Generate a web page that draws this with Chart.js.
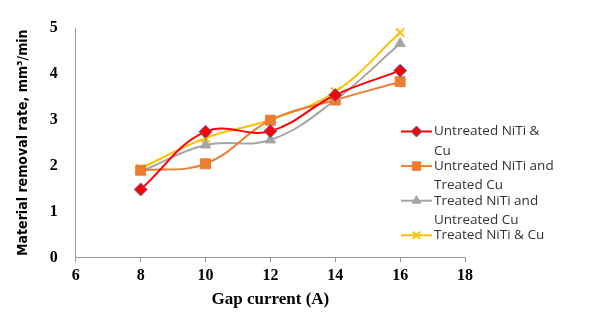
<!DOCTYPE html>
<html>
<head>
<meta charset="utf-8">
<script src="https://cdn.jsdelivr.net/npm/chart.js@4/dist/chart.umd.min.js"></script>
<style>
  html, body { margin: 0; padding: 0; background: #fff; }
  #wrap { width: 589px; height: 332px; }
</style>
</head>
<body>
<div id="wrap"><canvas id="mrrChart" width="589" height="332"></canvas></div>
<script>
// gap current (A)
const gapCurrent = [8, 10, 12, 14, 16];
// material removal rate, mm3/min
const untreatedNiTiCu = [1.48, 2.74, 2.75, 3.54, 4.07];
const untreatedNiTiTreatedCu = [1.90, 2.04, 2.99, 3.43, 3.83];
const treatedNiTiUntreatedCu = [1.87, 2.45, 2.56, 3.43, 4.66];
const treatedNiTiCu = [1.94, 2.60, 3.00, 3.61, 4.90];
const seriesLabels = [
  ['Untreated NiTi &', 'Cu'],
  ['Untreated NiTi and', 'Treated Cu'],
  ['Treated NiTi and', 'Untreated Cu'],
  ['Treated NiTi & Cu']
];
const xTicks = [6, 8, 10, 12, 14, 16, 18];
const yTicks = [0, 1, 2, 3, 4, 5];

const toPoints = (vals) => vals.map((v, i) => ({ x: gapCurrent[i], y: v }));

const styles = [
  { color: '#FF0000', point: 'rectRot', radius: 6.5, border: '#4472C4' },
  { color: '#ED7D31', point: 'rect', radius: 7, border: '#ED7D31' },
  { color: '#A5A5A5', point: 'triangle', radius: 6, border: '#A5A5A5' },
  { color: '#FFC000', point: 'crossRot', radius: 6, border: '#FFC000' }
];
const allSeries = [untreatedNiTiCu, untreatedNiTiTreatedCu, treatedNiTiUntreatedCu, treatedNiTiCu];

const datasets = allSeries.map((vals, i) => ({
  label: seriesLabels[i].join(' '),
  data: toPoints(vals),
  borderColor: styles[i].color,
  backgroundColor: styles[i].color,
  borderWidth: 2,
  tension: 0.4,
  pointStyle: styles[i].point,
  pointRadius: styles[i].radius,
  pointBackgroundColor: styles[i].color,
  pointBorderColor: styles[i].border,
  pointBorderWidth: styles[i].point === 'crossRot' ? 2 : 1
}));

// legend drawn inside the plot, on the right, like the original
const sideLegend = {
  id: 'sideLegend',
  afterDraw(chart) {
    const ctx = chart.ctx;
    const x0 = 401, y0 = 131.5, lineH = 19.5, gap = 34.6;
    ctx.save();
    ctx.font = '13.5px "Open Sans", sans-serif';
    ctx.textBaseline = 'middle';
    ctx.fillStyle = '#333';
    chart.data.datasets.forEach((ds, i) => {
      const y = y0 + i * gap;
      ctx.strokeStyle = ds.borderColor;
      ctx.lineWidth = 2;
      ctx.beginPath();
      ctx.moveTo(x0, y);
      ctx.lineTo(x0 + 31, y);
      ctx.stroke();
      if (Chart.helpers && Chart.helpers.drawPoint) {
        ctx.fillStyle = ds.pointBackgroundColor;
        ctx.strokeStyle = ds.pointBorderColor;
        ctx.lineWidth = ds.pointBorderWidth;
        Chart.helpers.drawPoint(ctx, { pointStyle: ds.pointStyle, radius: ds.pointRadius - 1, rotation: 0, borderWidth: ds.pointBorderWidth }, x0 + 15.5, y);
      }
      ctx.fillStyle = '#333';
      seriesLabels[i].forEach((t, k) => ctx.fillText(t, x0 + 33, y + k * lineH));
    });
    ctx.restore();
  }
};

new Chart(document.getElementById('mrrChart'), {
  type: 'line',
  data: { datasets: datasets },
  plugins: [sideLegend],
  options: {
    responsive: false,
    animation: false,
    layout: { padding: { left: 11, right: 124, top: 28, bottom: 18 } },
    plugins: {
      legend: { display: false },
      tooltip: { enabled: false }
    },
    scales: {
      x: {
        type: 'linear',
        min: xTicks[0],
        max: xTicks[xTicks.length - 1],
        afterBuildTicks: (axis) => { axis.ticks = xTicks.map(v => ({ value: v })); },
        grid: { display: true, drawOnChartArea: false, color: '#999', tickLength: 5 },
        border: { color: '#999', width: 1 },
        ticks: { color: '#000', font: { family: '"Liberation Serif", serif', size: 16, weight: 'bold' }, padding: 4 },
        title: { display: true, text: 'Gap current (A)', color: '#000', font: { family: '"Liberation Serif", serif', size: 17, weight: 'bold' }, padding: { top: 0 } }
      },
      y: {
        min: yTicks[0],
        max: yTicks[yTicks.length - 1],
        afterBuildTicks: (axis) => { axis.ticks = yTicks.map(v => ({ value: v })); },
        grid: { display: false },
        border: { color: '#999', width: 1 },
        ticks: { color: '#000', font: { family: '"Liberation Serif", serif', size: 16, weight: 'bold' }, padding: 10 },
        title: { display: true, text: 'Material removal rate, mm³/min', color: '#000', font: { family: '"DejaVu Sans Condensed", "DejaVu Sans", sans-serif', size: 14, weight: 'bold' }, padding: { bottom: 8 } }
      }
    }
  }
});
</script>
</body>
</html>
